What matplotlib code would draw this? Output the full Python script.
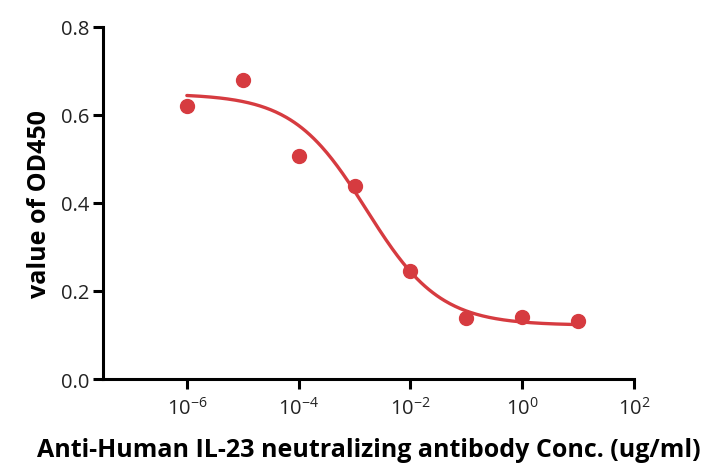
import numpy as np
import matplotlib
matplotlib.use("Agg")
import matplotlib.pyplot as plt
from matplotlib.ticker import FixedLocator, NullLocator

plt.rcParams['font.family'] = ['Open Sans', 'DejaVu Sans']
plt.rcParams['mathtext.fontset'] = 'custom'
plt.rcParams['mathtext.rm'] = 'Open Sans'
plt.rcParams['mathtext.it'] = 'Open Sans:italic'
plt.rcParams['mathtext.bf'] = 'Open Sans:bold'

# measured points
conc = [1e-6, 1e-5, 1e-4, 1e-3, 1e-2, 1e-1, 1e0, 1e1]
od450 = [0.620, 0.680, 0.507, 0.439, 0.245, 0.139, 0.141, 0.132]

# 4-parameter logistic fit
top = 0.648
bottom = 0.122
log_ec50 = -2.79
hill = 0.66

xticks = [1e-6, 1e-4, 1e-2, 1e0, 1e2]
xtick_labels = [r'$10^{-6}$', r'$10^{-4}$', r'$10^{-2}$', r'$10^{0}$', r'$10^{2}$']
yticks = [0.0, 0.2, 0.4, 0.6, 0.8]

red = '#d63b40'

fig = plt.figure(figsize=(7.03, 4.64), dpi=100)
ax = fig.add_axes([0.1465, 0.181, 0.7555, 0.759])

xfit = np.logspace(-6, 1, 300)
yfit = bottom + (top - bottom) / (1 + (xfit / 10**log_ec50) ** hill)
ax.plot(xfit, yfit, color=red, lw=2.4, solid_capstyle='round', zorder=2)
ax.plot(conc, od450, 'o', color=red, ms=10, mec=red, zorder=3)

ax.set_xscale('log')
ax.set_xlim(10**-7.5, 1e2)
ax.set_ylim(0, 0.8)

ax.xaxis.set_major_locator(FixedLocator(xticks))
ax.xaxis.set_minor_locator(NullLocator())
ax.set_xticklabels(xtick_labels)
ax.set_yticks(yticks)
ax.set_yticklabels([f'{v:.1f}' for v in yticks])

for s in ['top', 'right']:
    ax.spines[s].set_visible(False)
for s in ['left', 'bottom']:
    ax.spines[s].set_linewidth(2.2)
    ax.spines[s].set_color('black')
ax.tick_params(axis='both', width=2.2, length=7, direction='out', labelsize=14.5, colors='black')
ax.tick_params(axis='x', pad=6)
ax.tick_params(axis='y', pad=3)
for lbl in ax.get_xticklabels() + ax.get_yticklabels():
    lbl.set_color('#222222')

ax.set_xlabel('Anti-Human IL-23 neutralizing antibody Conc. (ug/ml)', fontsize=18, fontweight='bold', labelpad=13)
ax.set_ylabel('value of OD450', fontsize=18, fontweight='bold', labelpad=6)

fig.savefig('out.png', dpi=100)
